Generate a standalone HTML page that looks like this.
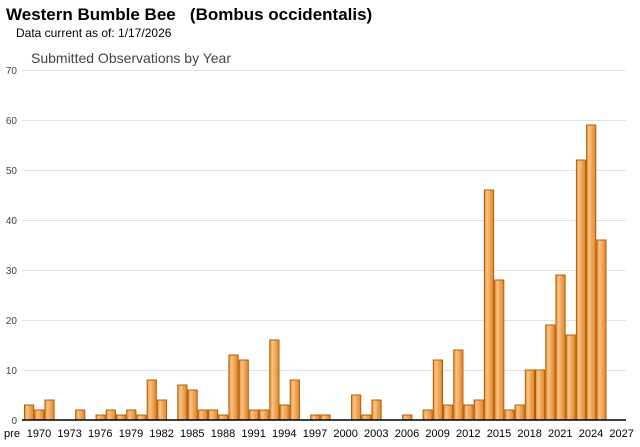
<!DOCTYPE html>
<html><head><meta charset="utf-8"><style>
body{margin:0;background:#fff;width:640px;height:442px;overflow:hidden;font-family:"Liberation Sans",Arial,sans-serif}
text{white-space:pre}
</style></head><body>
<svg id="s" width="640" height="442" xmlns="http://www.w3.org/2000/svg" font-family="Liberation Sans, Arial, sans-serif">
<defs><linearGradient id="g" x1="0" x2="1" y1="0" y2="0">
<stop offset="0" stop-color="#e8913a"/><stop offset="0.3" stop-color="#f6c48a"/><stop offset="0.6" stop-color="#f0a558"/><stop offset="1" stop-color="#e08830"/></linearGradient></defs>
<text x="6" y="20" font-size="17" font-weight="bold" fill="#000" xml:space="preserve">Western Bumble Bee   (Bombus occidentalis)</text>
<text x="16" y="37" font-size="12" fill="#000">Data current as of: 1/17/2026</text>
<text x="31" y="63" font-size="14" fill="#444">Submitted Observations by Year</text>
<g stroke="#e2e2e2" stroke-width="1">
<line x1="22" x2="626" y1="70.5" y2="70.5"/><line x1="22" x2="626" y1="120.5" y2="120.5"/><line x1="22" x2="626" y1="170.5" y2="170.5"/><line x1="22" x2="626" y1="220.5" y2="220.5"/><line x1="22" x2="626" y1="270.5" y2="270.5"/><line x1="22" x2="626" y1="320.5" y2="320.5"/><line x1="22" x2="626" y1="370.5" y2="370.5"/>
</g>
<g font-size="10" fill="#444" text-anchor="end">
<text x="17" y="74">70</text><text x="17" y="124">60</text><text x="17" y="174">50</text><text x="17" y="224">40</text><text x="17" y="274">30</text><text x="17" y="324">20</text><text x="17" y="374">10</text><text x="17" y="424">0</text>
</g>
<g id="bars" stroke="#b46000" stroke-width="1"></g>
<line x1="22" x2="626" y1="420" y2="420" stroke="#000" stroke-width="1.5"/>
<g font-size="11" fill="#000" text-anchor="middle">
<text x="12" y="437">pre</text><text x="39" y="437">1970</text><text x="69.6" y="437">1973</text><text x="100.3" y="437">1976</text><text x="131" y="437">1979</text><text x="161.6" y="437">1982</text><text x="192.3" y="437">1985</text><text x="223" y="437">1988</text><text x="253.6" y="437">1991</text><text x="284.3" y="437">1994</text><text x="315" y="437">1997</text><text x="345.6" y="437">2000</text><text x="376.3" y="437">2003</text><text x="407" y="437">2006</text><text x="437.6" y="437">2009</text><text x="468.3" y="437">2012</text><text x="499" y="437">2015</text><text x="529.6" y="437">2018</text><text x="560.3" y="437">2021</text><text x="591" y="437">2024</text><text x="621.6" y="437">2027</text>
</g>
</svg>
<script>
var v=[3,2,4,0,0,2,0,1,2,1,2,1,8,4,0,7,6,2,2,1,13,12,2,2,16,3,8,0,1,1,0,0,5,1,4,0,0,1,0,2,12,3,14,3,4,46,28,2,3,10,10,19,29,17,52,59,36];
var g=document.getElementById('bars'),h='';
v.forEach(function(x,i){if(!x)return;var l=24+10.22*i;h+='<rect x="'+(l+0.5)+'" y="'+(420-5*x)+'" width="9.2" height="'+(5*x)+'" fill="url(#g)"/>';});
g.innerHTML=h;
</script>
</body></html>
